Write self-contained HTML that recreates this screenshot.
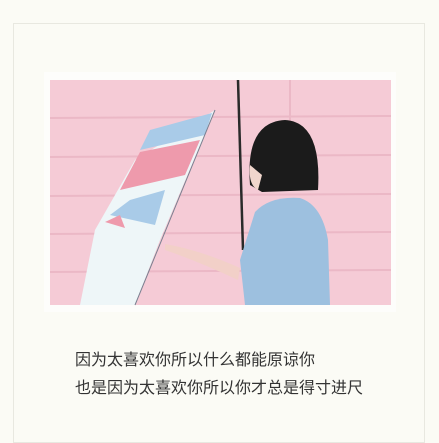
<!DOCTYPE html>
<html><head><meta charset="utf-8"><style>
body{margin:0;background:#fbfbf5;width:439px;height:433px;overflow:hidden;position:relative;font-family:"Liberation Sans","Noto Sans CJK SC",sans-serif}
.frame{position:absolute;left:13px;top:23px;width:412px;height:420px;border:1px solid #e8e8e0;box-sizing:border-box}
.txt{position:absolute;left:75px;font-size:16px;color:#333;letter-spacing:0;white-space:nowrap}
</style></head><body>
<div class="frame"></div>
<svg style="position:absolute;left:0;top:0" width="439" height="433">
<rect x="44" y="72" width="352" height="240" fill="#fdfdfb"/>
<rect x="50" y="80" width="341" height="225" fill="#f5cbd6"/>
<g stroke="#ebb8c6" stroke-width="2">
<line x1="50" y1="118" x2="391" y2="116"/><line x1="50" y1="157" x2="391" y2="155"/>
<line x1="50" y1="196" x2="391" y2="194"/><line x1="50" y1="234" x2="391" y2="232"/>
<line x1="50" y1="272" x2="391" y2="270"/><line x1="290" y1="80" x2="290" y2="140"/>
</g>
<line x1="238" y1="80" x2="243" y2="250" stroke="#2a2a2a" stroke-width="2.5"/>
<polygon points="215,110 160,240 135,305 80,305 95,230 135,160" fill="#eef6f8"/>
<polygon points="212,113 150,130 140,150 205,135" fill="#a9cbe8"/>
<polygon points="200,140 140,152 120,190 185,175" fill="#ee9aac"/>
<polygon points="165,190 130,200 110,215 155,225" fill="#a9cbe8"/>
<polygon points="120,215 105,222 125,228" fill="#ee9aac"/>
<line x1="215" y1="110" x2="135" y2="305" stroke="#7a8090" stroke-width="1"/>
<path d="M250,185 Q245,122 285,120 Q322,122 318,190 L262,192 Z" fill="#1b1b1b"/>
<path d="M250,165 Q248,185 258,190 L262,175 Z" fill="#f0d6cc"/>
<path d="M255,212 Q270,196 300,198 Q322,205 328,240 L330,305 L245,305 L240,260 Z" fill="#9dc0df"/>
<path d="M165,244 Q200,250 240,268 L238,280 Q200,262 165,250 Z" fill="#f2d0c8"/>
</svg>
<div class="txt" style="top:346px">因为太喜欢你所以什么都能原谅你</div>
<div class="txt" style="top:374px">也是因为太喜欢你所以你才总是得寸进尺</div>
</body></html>
